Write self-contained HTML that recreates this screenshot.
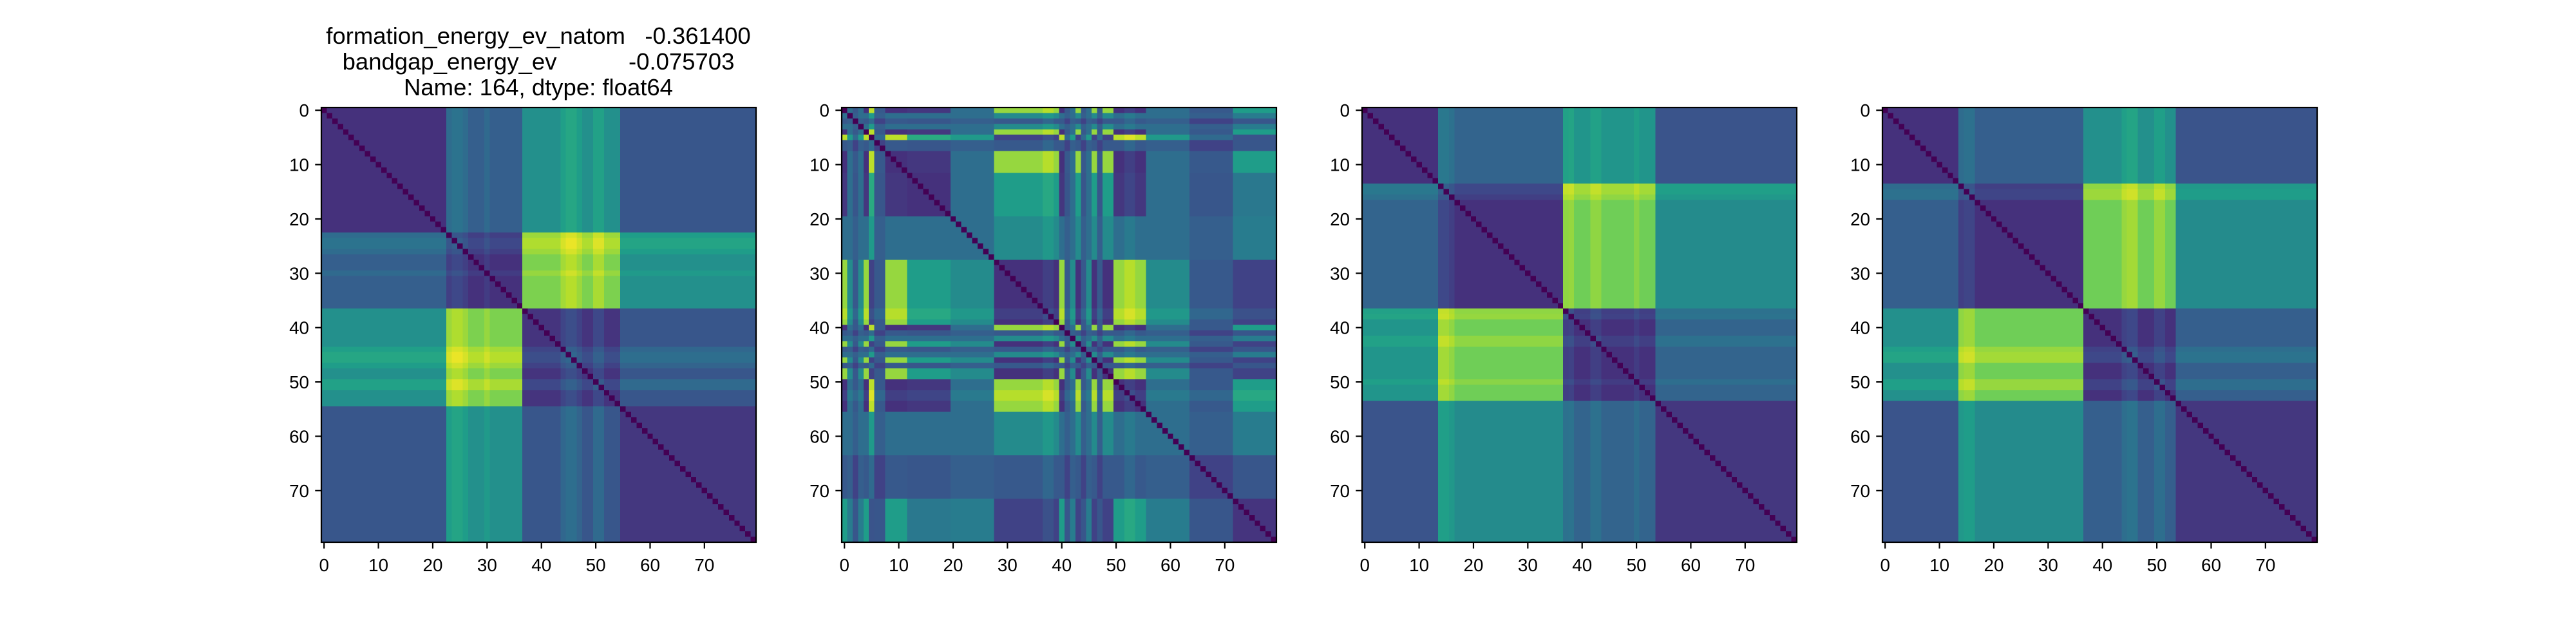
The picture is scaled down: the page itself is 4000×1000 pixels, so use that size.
<!DOCTYPE html>
<html><head><meta charset="utf-8">
<style>
html,body{margin:0;padding:0;background:#fff;}
svg{display:block;font-family:"Liberation Sans","DejaVu Sans",sans-serif;}
</style></head>
<body>
<svg id="fig" width="4000" height="1000" viewBox="0 0 4000 1000" xmlns="http://www.w3.org/2000/svg">
<rect x="0" y="0" width="4000" height="1000" fill="#ffffff"/>
<g font-size="36.5" text-anchor="middle" fill="#000">
<text x="836" y="68" xml:space="preserve" style="white-space:pre">formation_energy_ev_natom   -0.361400</text>
<text x="836" y="108" xml:space="preserve" style="white-space:pre">bandgap_energy_ev           -0.075703</text>
<text x="836" y="148">Name: 164, dtype: float64</text>
</g>
</svg>
<script>
// ---- data ----
const N = 80;
const xTickLabels = [0,10,20,30,40,50,60,70];
const yTickLabels = [0,10,20,30,40,50,60,70];
// group boundaries per panel (start index of each group)
const groupStarts1 = [0,23,37,55];
const groupStarts3 = [0,14,37,54];
const groupStarts4 = [0,14,37,54];
// panel 2: per-index group membership (0 neutral,1 Q,2 P,3 low,4 weak-Q,5 weak-P)
const groups2 = [1,0,3,0,1,2,3,3,1,1,1,1,4,4,4,4,4,4,4,4,0,0,0,0,0,0,0,0,
  2,2,2,2,2,2,2,2,2,2,2,2,1,3,0,2,3,0,2,3,2,2,1,1,1,1,1,1,0,0,0,0,0,0,0,0,
  3,3,3,3,3,3,3,3,5,5,5,5,5,5,5,5];
// group-to-group values
const blockValues1 = [[0.14,0.3,0.5,0.27],[0.3,0.14,0.8,0.5],[0.5,0.8,0.15,0.27],[0.27,0.5,0.27,0.16]];
const blockValues2 = [
  [0.36,0.36,0.48,0.3,0.36,0.42],
  [0.36,0.14,0.84,0.28,0.16,0.55],
  [0.48,0.84,0.14,0.28,0.55,0.2],
  [0.3,0.28,0.28,0.2,0.27,0.27],
  [0.36,0.16,0.55,0.27,0.14,0.4],
  [0.42,0.55,0.2,0.27,0.4,0.15]];
const blockValues3 = [[0.14,0.32,0.52,0.26],[0.32,0.14,0.78,0.48],[0.52,0.78,0.14,0.32],[0.26,0.48,0.32,0.16]];
const blockValues4 = [[0.14,0.3,0.5,0.26],[0.3,0.14,0.78,0.48],[0.5,0.78,0.14,0.3],[0.26,0.48,0.3,0.16]];
// brighter stripes per index
const tone1 = {23:0.05,24:0.08,25:0.08,26:0.05,30:0.04,44:0.06,45:0.09,46:0.09,47:0.05,50:0.07,51:0.07};
const tone2 = {5:0.06,37:0.05,38:0.05,52:0.05,53:0.05};
const tone3 = {14:0.08,15:0.08,16:0.05,37:0.05,38:0.06,42:0.05,43:0.05,50:0.04};
const tone4 = {14:0.05,15:0.07,16:0.07,44:0.06,45:0.08,46:0.08,50:0.06,51:0.06};

// ---- layout ----
const axLeft = [499,1307,2115,2923];
const axTop = 167, axSize = 675;
const cell = axSize / N;

const viridis = ["#440154","#482878","#3e4989","#31688e","#26828e","#1f9e89","#35b779","#6ece58","#b5de2b","#fde725"];
function cmap(v){
  v = Math.max(0, Math.min(1, v));
  const p = v * (viridis.length - 1), i = Math.min(viridis.length - 2, Math.floor(p)), f = p - i;
  const a = viridis[i], b = viridis[i+1];
  const c = k => Math.round(parseInt(a.substr(k,2),16)*(1-f) + parseInt(b.substr(k,2),16)*f);
  return "rgb(" + c(1) + "," + c(3) + "," + c(5) + ")";
}
function groupFromStarts(starts){
  const g = [];
  for (let i = 0; i < N; i++){ let k = 0; for (let s = 0; s < starts.length; s++) if (i >= starts[s]) k = s; g.push(k); }
  return g;
}
const panels = [
  {g: groupFromStarts(groupStarts1), G: blockValues1, t: tone1},
  {g: groups2, G: blockValues2, t: tone2},
  {g: groupFromStarts(groupStarts3), G: blockValues3, t: tone3},
  {g: groupFromStarts(groupStarts4), G: blockValues4, t: tone4}
];
const xScale = (p, v) => axLeft[p] + (v + 0.5) * cell;
const yScale = v => axTop + (v + 0.5) * cell;
const NS = "http://www.w3.org/2000/svg";
const svg = document.getElementById("fig");
function mk(tag, attrs, parent){
  const e = document.createElementNS(NS, tag);
  for (const k in attrs) e.setAttribute(k, attrs[k]);
  parent.appendChild(e);
  return e;
}
panels.forEach((P, p) => {
  const g = mk("g", {}, svg);
  
  
  const cells = mk("g", {"shape-rendering":"crispEdges"}, g);
  
  
  for (let i = 0; i < N; i++){
    for (let j = 0; j < N; j++){
      let v = (i === j) ? 0 : P.G[P.g[i]][P.g[j]] + (P.t[i] || 0) + (P.t[j] || 0);
      const r = mk("rect", {x: (xScale(p, j) - cell/2).toFixed(2), y: (yScale(i) - cell/2).toFixed(2),
        width: (cell + 0.6).toFixed(2), height: (cell + 0.6).toFixed(2), fill: cmap(v)}, cells);
      
      
    }
  }
  const spine = mk("rect", {x: axLeft[p], y: axTop, width: axSize, height: axSize, fill: "none", stroke: "#000", "stroke-width": 2.2}, g);
  
  
  xTickLabels.forEach(t => {
    const x = xScale(p, t);
    const l = mk("line", {x1: x, x2: x, y1: axTop + axSize, y2: axTop + axSize + 9.7, stroke: "#000", "stroke-width": 2.2}, g);
    
    
    const tx = mk("text", {x: x, y: axTop + axSize + 45, "font-size": 27.8, "text-anchor": "middle"}, g);
    
    
    tx.textContent = t;
  });
  yTickLabels.forEach(t => {
    const y = yScale(t);
    const l = mk("line", {x1: axLeft[p] - 9.7, x2: axLeft[p], y1: y, y2: y, stroke: "#000", "stroke-width": 2.2}, g);
    
    
    const tx = mk("text", {x: axLeft[p] - 19, y: y + 10, "font-size": 27.8, "text-anchor": "end"}, g);
    
    
    tx.textContent = t;
  });
});
</script>
</body></html>
